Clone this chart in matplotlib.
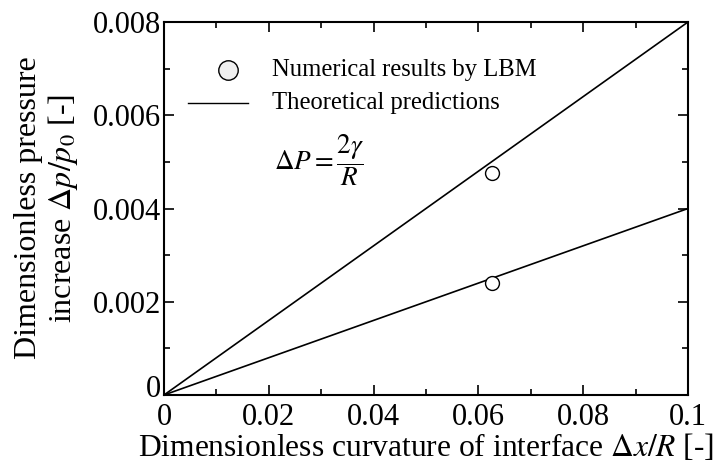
import matplotlib
matplotlib.use("Agg")
import matplotlib.pyplot as plt
from matplotlib.ticker import MultipleLocator, FuncFormatter

# theory lines: dp/p0 = slope * (dx/R)
curv_line = [0.0, 0.1]
slopes = [0.08, 0.04]

# LBM results
curv_lbm = [0.0625, 0.0625]
dp_lbm = [0.00476, 0.00240]

plt.rcParams.update({
    "font.family": "serif",
    "font.serif": ["Liberation Serif", "DejaVu Serif"],
    "mathtext.fontset": "stix",
})

fig = plt.figure(figsize=(7.16, 4.66), dpi=100)
ax = fig.add_axes([164 / 716, 1 - 395 / 466, 524 / 716, 373 / 466])

for s in slopes:
    ax.plot(curv_line, [s * c for c in curv_line], color="black", lw=1.2)
ax.plot(curv_lbm, dp_lbm, "o", ms=10, mfc="white", mec="black", mew=1.0, ls="none")

ax.set_xlim(0, 0.1)
ax.set_ylim(0, 0.008)
ax.xaxis.set_major_locator(MultipleLocator(0.02))
ax.xaxis.set_minor_locator(MultipleLocator(0.01))
ax.yaxis.set_major_locator(MultipleLocator(0.002))
ax.yaxis.set_minor_locator(MultipleLocator(0.001))
ax.xaxis.set_major_formatter(FuncFormatter(lambda v, p: "0" if abs(v) < 1e-12 else "%g" % round(v, 3)))
# y "0" is placed by hand below, a bit higher so it does not sit on the x "0"
ax.yaxis.set_major_formatter(FuncFormatter(lambda v, p: "" if abs(v) < 1e-12 else "%.3f" % v))

ax.tick_params(which="both", direction="in", top=True, right=True, labelsize=22, width=1.2)
ax.tick_params(which="major", length=7)
ax.tick_params(axis="x", which="major", pad=6)
ax.tick_params(axis="y", which="major", pad=2)
ax.tick_params(which="minor", length=4)
for sp in ax.spines.values():
    sp.set_linewidth(1.5)

ax.annotate("0", xy=(0, 0), xycoords="axes fraction", xytext=(-2, 4), textcoords="offset points",
            ha="right", va="center", fontsize=22)

ax.set_xlabel(r"Dimensionless curvature of interface $\Delta x/R$ [-]", fontsize=22.7, labelpad=0)
fig.text(47 / 716, 1 - 208 / 466, "Dimensionless pressure\n" + r"increase $\Delta p/p_0$ [-]",
         fontsize=23, rotation=90, ha="center", va="center", multialignment="center",
         linespacing=1.08)

# legend drawn by hand
fig.lines.append(plt.Line2D([228 / 716], [1 - 70 / 466], marker="o", ms=14, mfc="#f0f0f0",
                            mec="black", mew=1.0, ls="none", transform=fig.transFigure))
fig.lines.append(plt.Line2D([188 / 716, 248 / 716], [1 - 103 / 466] * 2, color="black", lw=1.0,
                            transform=fig.transFigure))
fig.text(272 / 716, 1 - 70 / 466, "Numerical results by LBM", fontsize=17.7, va="center")
fig.text(272 / 716, 1 - 103 / 466, "Theoretical predictions", fontsize=17.7, va="center")
fig.text(274 / 716, 1 - 160 / 466, r"$\Delta P = \dfrac{2\gamma}{R}$", fontsize=19.5, va="center")

fig.savefig("out.png", dpi=100)
